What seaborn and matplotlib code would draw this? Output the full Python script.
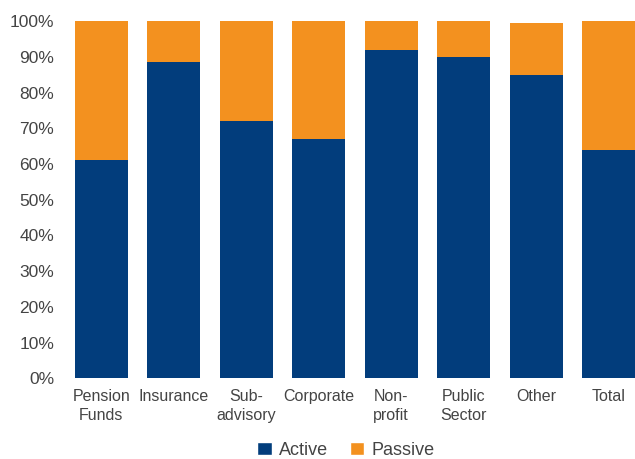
import matplotlib
matplotlib.use("Agg")
import matplotlib.pyplot as plt
import pandas as pd
import seaborn as sns
from matplotlib.patches import Patch
from matplotlib.ticker import FuncFormatter

CATEGORIES = ["Pension\nFunds", "Insurance", "Sub-\nadvisory", "Corporate",
              "Non-\nprofit", "Public\nSector", "Other", "Total"]
ACTIVE = [61, 88.5, 72, 67, 92, 90, 85, 64]
PASSIVE = [39, 11.5, 28, 33, 8, 10, 14.5, 36]

NAVY = "#023d7c"
ORANGE = "#f3911f"
GREY = "#444444"

sns.set_theme(style="white")
plt.rcParams["font.family"] = ["Liberation Sans", "DejaVu Sans"]

df = pd.DataFrame({"category": CATEGORIES, "active": ACTIVE, "passive": PASSIVE})
df["top"] = df["active"] + df["passive"]

fig = plt.figure(figsize=(6.35, 4.59), dpi=100)
ax = fig.add_axes([0.118, 0.176, 0.882, 0.778])

sns.barplot(data=df, x="category", y="top", color=ORANGE, width=0.73,
            saturation=1, linewidth=0, ax=ax)
sns.barplot(data=df, x="category", y="active", color=NAVY, width=0.73,
            saturation=1, linewidth=0, ax=ax)

ax.set_xlim(-0.365, len(CATEGORIES) - 1 + 0.365)
ax.set_ylim(0, 100)
ax.set_yticks(range(0, 101, 10))
ax.yaxis.set_major_formatter(FuncFormatter(lambda v, _: f"{v:.0f}%"))
ax.set_xlabel("")
ax.set_ylabel("")
sns.despine(ax=ax, left=True, bottom=True)
ax.tick_params(axis="y", length=0, pad=15, labelsize=12.5, labelcolor=GREY)
ax.tick_params(axis="x", length=0, pad=8, labelsize=11.5, labelcolor=GREY)
for lbl in ax.get_xticklabels():
    lbl.set_linespacing(1.3)

handles = [Patch(facecolor=NAVY, label="Active"), Patch(facecolor=ORANGE, label="Passive")]
fig.legend(handles=handles, loc="lower center", bbox_to_anchor=(0.545, -0.035),
           ncol=2, frameon=False, fontsize=13, handlelength=0.8, handleheight=0.8,
           handletextpad=0.4, columnspacing=1.2, labelcolor=GREY)

fig.savefig("out.png", dpi=100)
